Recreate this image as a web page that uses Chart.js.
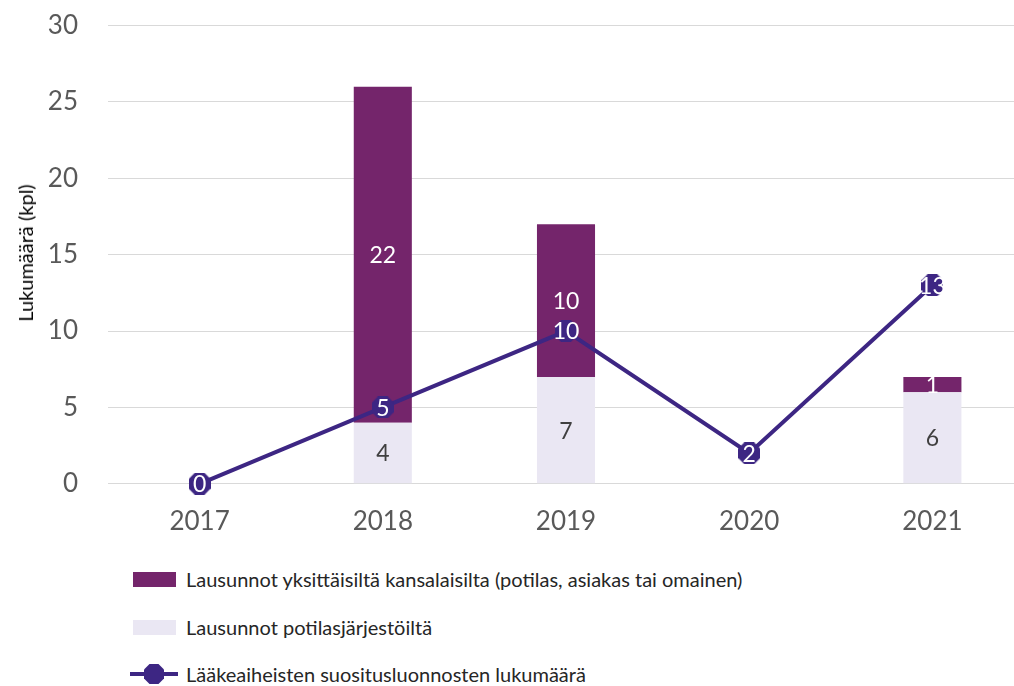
<!DOCTYPE html>
<html lang="fi">
<head>
<meta charset="utf-8">
<script src="https://cdn.jsdelivr.net/npm/chart.js@4/dist/chart.umd.min.js"></script>
<style>
    html, body { margin: 0; padding: 0; background: #fff; overflow: hidden; }
    body { width: 1014px; height: 686px; position: relative; font-family: Lato, "Open Sans", sans-serif; }
    #wrap { position: absolute; left: 0; top: -20px; width: 1039px; height: 571px; }
    #ytitle { position: absolute; left: 25px; top: 253px; transform: translate(-50%, -50%) rotate(-90deg); white-space: nowrap; font-size: 20px; color: #000; }
    .legend-item { position: absolute; left: 130px; height: 24px; display: flex; align-items: center; font-size: 20px; color: #262626; }
    .legend-box { width: 43px; height: 15px; margin-left: 3px; margin-right: 10px; }
</style>
</head>
<body>
<div id="wrap"><canvas id="chart"></canvas></div>
<div id="ytitle">Lukumäärä (kpl)</div>

<div class="legend-item" style="top: 567px;">
    <span class="legend-box" style="background: #74256b;"></span>
    <span>Lausunnot yksittäisiltä kansalaisilta (potilas, asiakas tai omainen)</span>
</div>
<div class="legend-item" style="top: 615px;">
    <span class="legend-box" style="background: #eae7f3;"></span>
    <span>Lausunnot potilasjärjestöiltä</span>
</div>
<div class="legend-item" style="top: 662px;">
    <svg width="56" height="24" style="margin-right: 0px;">
        <line x1="0" y1="12" x2="48" y2="12" stroke="#3d2683" stroke-width="4"/>
        <polygon points="19.5,2 28.5,2 34,7.5 34,16.5 28.5,22 19.5,22 14,16.5 14,7.5" fill="#3d2683"/>
    </svg>
    <span>Lääkeaiheisten suositusluonnosten lukumäärä</span>
</div>

<script>
// 数据
const years = ['2017', '2018', '2019', '2020', '2021'];
const fromCitizens = [null, 22, 10, null, 1];
const fromOrganisations = [null, 4, 7, null, 6];
const draftCount = [0, 5, 10, 2, 13];
const yTicks = [0, 5, 10, 15, 20, 25, 30];

// 颜色
const colors = {
    citizens: '#74256b',
    organisations: '#eae7f3',
    line: '#3d2683',
    grid: '#d9d9d9',
    tick: '#595959'
};

const fontFamily = 'Lato, "Open Sans", sans-serif';

// 八边形点样式
function makeOctagon(size, color) {
    const c = document.createElement('canvas');
    c.width = size;
    c.height = size;
    const g = c.getContext('2d');
    const s = size, k = size * 0.28;
    g.fillStyle = color;
    g.beginPath();
    g.moveTo(k, 0);
    g.lineTo(s - k, 0);
    g.lineTo(s, k);
    g.lineTo(s, s - k);
    g.lineTo(s - k, s);
    g.lineTo(k, s);
    g.lineTo(0, s - k);
    g.lineTo(0, k);
    g.closePath();
    g.fill();
    return c;
}

// 数据标签插件
const valueLabels = {
    id: 'valueLabels',
    afterDatasetsDraw(chart) {
        const ctx = chart.ctx;
        ctx.save();
        ctx.textAlign = 'center';
        ctx.textBaseline = 'middle';
        ctx.font = '23px ' + fontFamily;
        chart.data.datasets.forEach((ds, i) => {
            const meta = chart.getDatasetMeta(i);
            meta.data.forEach((el, j) => {
                const v = ds.data[j];
                if (v === null || v === undefined) return;
                let y = el.y;
                if (ds.type === 'bar') y = (el.y + el.base) / 2;
                ctx.fillStyle = ds.labelColor;
                ctx.fillText(String(v), el.x, y + 1);
            });
        });
        ctx.restore();
    }
};

const ctx = document.getElementById('chart').getContext('2d');
new Chart(ctx, {
    data: {
        labels: years,
        datasets: [
            {
                type: 'line',
                label: 'Lääkeaiheisten suositusluonnosten lukumäärä',
                data: draftCount,
                borderColor: colors.line,
                backgroundColor: colors.line,
                borderWidth: 4,
                pointStyle: makeOctagon(22, colors.line),
                pointRadius: 11,
                tension: 0,
                clip: false,
                order: 0,
                labelColor: '#ffffff'
            },
            {
                type: 'bar',
                label: 'Lausunnot potilasjärjestöiltä',
                data: fromOrganisations,
                backgroundColor: colors.organisations,
                categoryPercentage: 1,
                barPercentage: 0.317,
                stack: 's',
                order: 1,
                labelColor: '#404040'
            },
            {
                type: 'bar',
                label: 'Lausunnot yksittäisiltä kansalaisilta (potilas, asiakas tai omainen)',
                data: fromCitizens,
                backgroundColor: colors.citizens,
                categoryPercentage: 1,
                barPercentage: 0.317,
                stack: 's',
                order: 1,
                labelColor: '#ffffff'
            }
        ]
    },
    options: {
        responsive: true,
        maintainAspectRatio: false,
        animation: false,
        layout: { padding: { top: -10, right: 0, left: 0, bottom: 0 } },
        plugins: {
            legend: { display: false },
            tooltip: { enabled: false }
        },
        scales: {
            x: {
                stacked: true,
                grid: { display: false },
                border: { display: false },
                ticks: {
                    color: colors.tick,
                    font: { size: 26, family: fontFamily },
                    padding: 14
                }
            },
            y: {
                stacked: true,
                min: 0,
                max: 30,
                afterBuildTicks(scale) {
                    scale.ticks = yTicks.map(v => ({ value: v }));
                },
                afterFit(scale) {
                    scale.width = 108;
                },
                grid: { color: colors.grid, lineWidth: 1, drawTicks: false },
                border: { display: false },
                ticks: {
                    color: colors.tick,
                    font: { size: 26, family: fontFamily },
                    padding: 30
                }
            }
        }
    },
    plugins: [valueLabels]
});
</script>
</body>
</html>
